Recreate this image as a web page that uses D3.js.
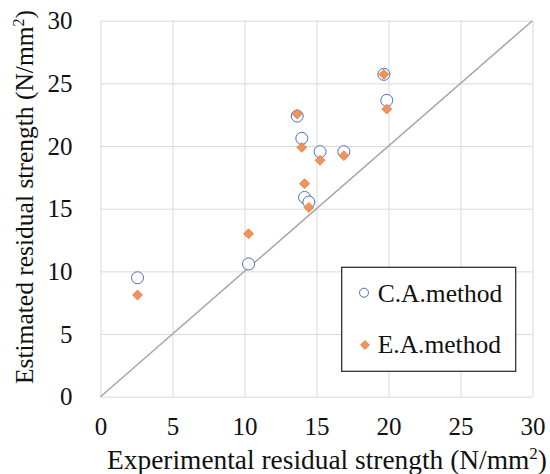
<!DOCTYPE html>
<html>
<head>
<meta charset="utf-8">
<script src="https://cdn.jsdelivr.net/npm/d3@7"></script>
<style>
  body { margin: 0; background: #fff; }
</style>
</head>
<body>
<div id="chart-area"></div>
<script>
// experimental strength (x) and the two estimates (y), N/mm2
var expStrength = [2.57, 10.28, 13.66, 13.98, 15.25, 16.9, 14.17, 14.47, 19.68, 19.88];
var caMethod    = [9.49, 10.59, 22.39, 20.61, 19.55, 19.55, 15.9, 15.53, 25.72, 23.64];
var eaMethod    = [8.11, 13.0, 22.55, 19.89, 18.86, 19.23, 17.0, 15.1, 25.72, 22.95];
var ticks = [0, 5, 10, 15, 20, 25, 30];
var seriesNames = ["C.A.method", "E.A.method"];

var serif = "Liberation Serif, serif";

var margin = {left: 100.5, right: 17.5, top: 20.7, bottom: 77.3};
var width = 550 - margin.left - margin.right;
var height = 474 - margin.top - margin.bottom;

var svg = d3.select("#chart-area").append("svg")
    .attr("width", 550)
    .attr("height", 474)
    .attr("font-family", serif);

var g = svg.append("g")
    .attr("transform", "translate(" + margin.left + "," + margin.top + ")");

var x = d3.scaleLinear().domain([0, 30]).range([0, width]);
var y = d3.scaleLinear().domain([0, 30]).range([height, 0]);

// grid
g.append("g")
    .attr("transform", "translate(0," + height + ")")
    .call(d3.axisBottom(x).tickValues(ticks).tickSize(-height).tickFormat(""))
    .call(function(a) { a.select(".domain").remove(); })
    .selectAll("line").attr("stroke", "#d9d9d9");

g.append("g")
    .call(d3.axisLeft(y).tickValues(ticks).tickSize(-width).tickFormat(""))
    .call(function(a) { a.select(".domain").remove(); })
    .selectAll("line").attr("stroke", "#d9d9d9");

// tick labels, put the number in a tspan so the serif face sticks
function serifTicks(sel) {
    sel.select(".domain").remove();
    sel.attr("font-family", serif).attr("font-size", 25);
    sel.selectAll("text").each(function() {
        var t = d3.select(this), s = t.text();
        t.text(null).attr("fill", "#111");
        t.append("tspan").text(s);
    });
}

g.append("g")
    .attr("transform", "translate(0," + height + ")")
    .call(d3.axisBottom(x).tickValues(ticks).tickSize(0).tickPadding(21))
    .call(serifTicks);

g.append("g")
    .call(d3.axisLeft(y).tickValues(ticks).tickSize(0).tickPadding(28))
    .call(serifTicks);

// 1:1 line
g.append("line")
    .attr("x1", x(0)).attr("y1", y(0))
    .attr("x2", x(30)).attr("y2", y(30))
    .attr("stroke", "#a6a6a6")
    .attr("stroke-width", 1.5);

// points
g.selectAll(".ca")
    .data(expStrength)
  .enter().append("circle")
    .attr("class", "ca")
    .attr("cx", function(d) { return x(d); })
    .attr("cy", function(d, i) { return y(caMethod[i]); })
    .attr("r", 6)
    .attr("fill", "#fff")
    .attr("stroke", "#4f6fb5")
    .attr("stroke-width", 1);

var diamond = d3.symbol().type(d3.symbolDiamond2).size(62);
g.selectAll(".ea")
    .data(expStrength)
  .enter().append("path")
    .attr("class", "ea")
    .attr("d", diamond)
    .attr("transform", function(d, i) { return "translate(" + x(d) + "," + y(eaMethod[i]) + ")"; })
    .attr("fill", "#f0955a")
    .attr("stroke", "#d77a3e")
    .attr("stroke-width", 0.8);

// axis titles
svg.append("text")
    .attr("x", 327)
    .attr("y", 469)
    .attr("text-anchor", "middle")
    .attr("fill", "#111")
    .attr("font-family", serif)
    .attr("font-size", 27.4)
    .html("<tspan>Experimental residual strength (N/mm</tspan><tspan dy='-10' font-size='17'>2</tspan><tspan dy='10'>)</tspan>");

svg.append("text")
    .attr("transform", "translate(33,197) rotate(-90)")
    .attr("text-anchor", "middle")
    .attr("fill", "#111")
    .attr("font-family", serif)
    .attr("font-size", 25.5)
    .html("<tspan>Estimated residual strength (N/mm</tspan><tspan dy='-9' font-size='16'>2</tspan><tspan dy='9'>)</tspan>");

// legend
var legend = svg.append("g");
legend.append("rect")
    .attr("x", 341.7).attr("y", 267.3)
    .attr("width", 174).attr("height", 104)
    .attr("fill", "#fff")
    .attr("stroke", "#222")
    .attr("stroke-width", 1.2);

legend.append("circle")
    .attr("cx", 364).attr("cy", 292.7).attr("r", 4.5)
    .attr("fill", "#fff").attr("stroke", "#4f6fb5");
legend.append("path")
    .attr("d", d3.symbol().type(d3.symbolDiamond2).size(50))
    .attr("transform", "translate(365,345)")
    .attr("fill", "#f0955a").attr("stroke", "#d77a3e").attr("stroke-width", 0.8);

legend.selectAll(".lab")
    .data(seriesNames)
  .enter().append("text")
    .attr("x", 377.7)
    .attr("y", function(d, i) { return 301.7 + i * 51.6; })
    .attr("fill", "#111")
    .attr("font-family", serif)
    .attr("font-size", 25.5)
  .append("tspan")
    .text(function(d) { return d; });
</script>
</body>
</html>
